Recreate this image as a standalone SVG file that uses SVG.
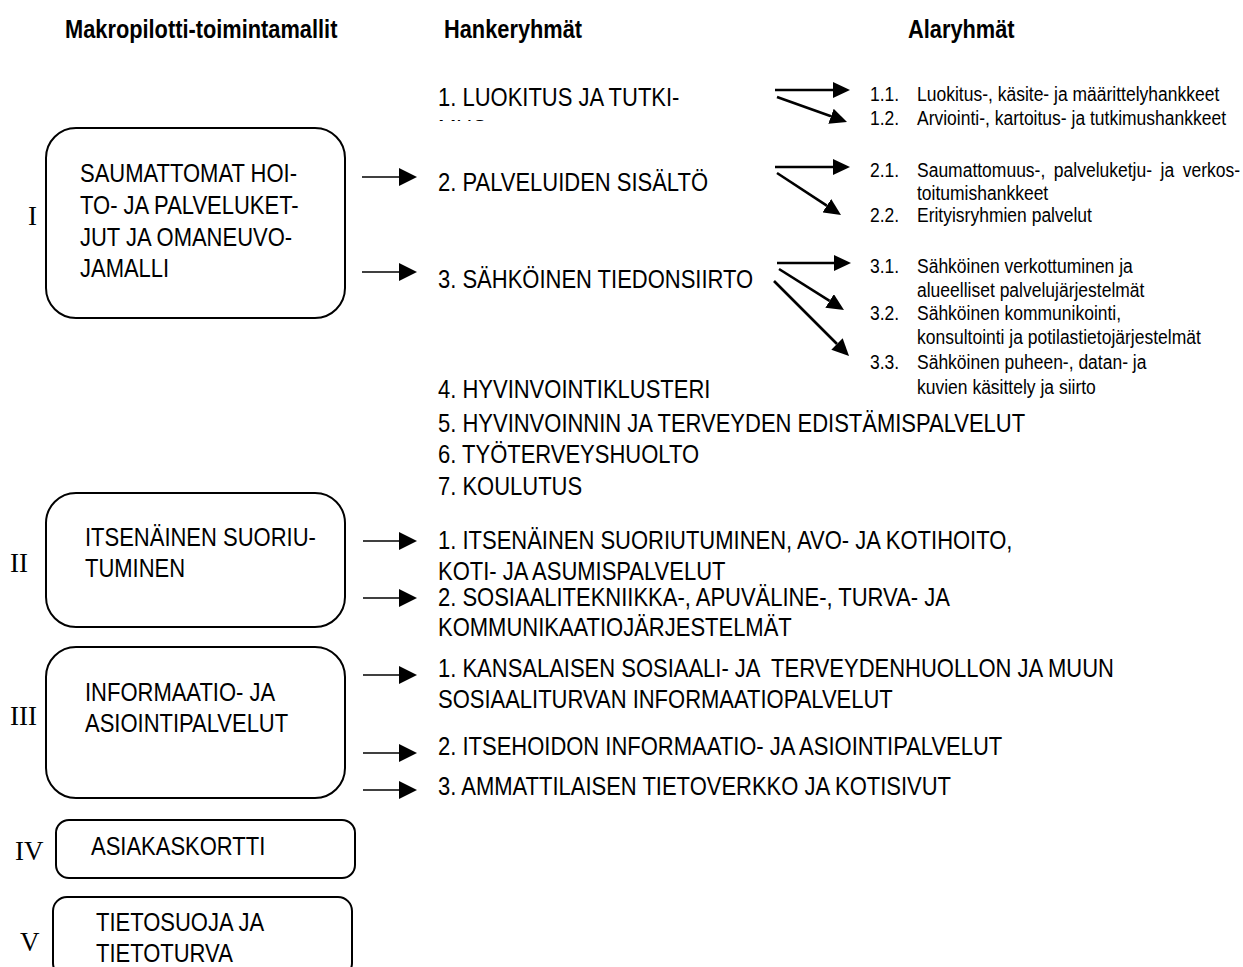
<svg xmlns="http://www.w3.org/2000/svg" width="1243" height="967" viewBox="0 0 1243 967">
  <defs>
    <style>
      .hdr { font-family: "Liberation Sans", Arial, sans-serif; font-size: 21.8px; font-weight: bold; fill: #000; }
      .t { font-family: "Liberation Sans", Arial, sans-serif; font-size: 22px; fill: #000; }
      .s { font-family: "Liberation Sans", Arial, sans-serif; font-size: 17.5px; fill: #000; }
      .rn { font-family: "Liberation Serif", "Times New Roman", serif; font-size: 27px; fill: #000; }
      .box { fill: #fff; stroke: #000; stroke-width: 2; }
      .thin { stroke: #000; stroke-width: 1.3; fill: none; }
      .thick { stroke: #000; stroke-width: 2.6; fill: none; }
    </style>
    <marker id="headSmall" markerUnits="userSpaceOnUse" viewBox="0 0 18 18" refX="0" refY="9" markerWidth="18" markerHeight="18" orient="auto">
      <path d="M0,0 L18,9 L0,18 z" fill="#000"/>
    </marker>
    <marker id="headBold" markerUnits="userSpaceOnUse" viewBox="0 0 17 16" refX="0" refY="8" markerWidth="17" markerHeight="16" orient="auto">
      <path d="M0,0 L17,8 L0,16 z" fill="#000"/>
    </marker>
    <clipPath id="cutLine">
      <rect x="400" y="60" width="400" height="61"/>
    </clipPath>
  </defs>
  <rect width="1243" height="967" fill="#fff"/>

  <!-- column headings (type is drawn slightly tall: scale 1 x 1.15) -->
  <g id="headings">
    <text class="hdr" transform="matrix(1 0 0 1.15 65 38)">Makropilotti-toimintamallit</text>
    <text class="hdr" transform="matrix(1 0 0 1.15 444 38)">Hankeryhmät</text>
    <text class="hdr" transform="matrix(1 0 0 1.15 908 38)">Alaryhmät</text>
  </g>

  <!-- macro pilot models -->
  <g id="model-I">
    <text class="rn" x="28" y="225">I</text>
    <rect class="box" x="46" y="128" width="299" height="190" rx="30" ry="30"/>
    <text class="t" transform="matrix(1 0 0 1.15 80 182)">SAUMATTOMAT HOI-</text>
    <text class="t" transform="matrix(1 0 0 1.15 80 214)">TO- JA PALVELUKET-</text>
    <text class="t" transform="matrix(1 0 0 1.15 80 246)">JUT JA OMANEUVO-</text>
    <text class="t" transform="matrix(1 0 0 1.15 80 277)">JAMALLI</text>
  </g>
  <g id="model-II">
    <text class="rn" x="10" y="572">II</text>
    <rect class="box" x="46" y="493" width="299" height="134" rx="30" ry="30"/>
    <text class="t" transform="matrix(1 0 0 1.15 85 546)">ITSENÄINEN SUORIU-</text>
    <text class="t" transform="matrix(1 0 0 1.15 85 577)">TUMINEN</text>
  </g>
  <g id="model-III">
    <text class="rn" x="10" y="725">III</text>
    <rect class="box" x="46" y="647" width="299" height="151" rx="30" ry="30"/>
    <text class="t" transform="matrix(1 0 0 1.15 85 701)">INFORMAATIO- JA</text>
    <text class="t" transform="matrix(1 0 0 1.15 85 732)">ASIOINTIPALVELUT</text>
  </g>
  <g id="model-IV">
    <text class="rn" x="15" y="860">IV</text>
    <rect class="box" x="56" y="820" width="299" height="58" rx="13" ry="13"/>
    <text class="t" transform="matrix(1 0 0 1.15 91 855)">ASIAKASKORTTI</text>
  </g>
  <g id="model-V">
    <text class="rn" x="20" y="951">V</text>
    <rect class="box" x="53" y="897" width="299" height="80" rx="14" ry="14"/>
    <text class="t" transform="matrix(1 0 0 1.15 96 931)">TIETOSUOJA JA</text>
    <text class="t" transform="matrix(1 0 0 1.15 96 962)">TIETOTURVA</text>
  </g>

  <!-- project groups -->
  <g id="groups-I">
    <text class="t" transform="matrix(1 0 0 1.15 438 106)">1. LUOKITUS JA TUTKI-</text>
    <g clip-path="url(#cutLine)">
      <text class="t" transform="matrix(1 0 0 1.15 438 138)">MUS</text>
    </g>
    <text class="t" transform="matrix(1 0 0 1.15 438 191)">2. PALVELUIDEN SISÄLTÖ</text>
    <text class="t" transform="matrix(1 0 0 1.15 438 288)">3. SÄHKÖINEN TIEDONSIIRTO</text>
    <text class="t" transform="matrix(1 0 0 1.15 438 398)">4. HYVINVOINTIKLUSTERI</text>
    <text class="t" transform="matrix(1 0 0 1.15 438 432)">5. HYVINVOINNIN JA TERVEYDEN EDISTÄMISPALVELUT</text>
    <text class="t" transform="matrix(1 0 0 1.15 438 463)">6. TYÖTERVEYSHUOLTO</text>
    <text class="t" transform="matrix(1 0 0 1.15 438 495)">7. KOULUTUS</text>
  </g>
  <g id="groups-II">
    <text class="t" transform="matrix(1 0 0 1.15 438 549)">1. ITSENÄINEN SUORIUTUMINEN, AVO- JA KOTIHOITO,</text>
    <text class="t" transform="matrix(1 0 0 1.15 438 580)">KOTI- JA ASUMISPALVELUT</text>
    <text class="t" transform="matrix(1 0 0 1.15 438 606)">2. SOSIAALITEKNIIKKA-, APUVÄLINE-, TURVA- JA</text>
    <text class="t" transform="matrix(1 0 0 1.15 438 636)">KOMMUNIKAATIOJÄRJESTELMÄT</text>
  </g>
  <g id="groups-III">
    <text class="t" transform="matrix(1 0 0 1.15 438 677)" xml:space="preserve">1. KANSALAISEN SOSIAALI- JA  TERVEYDENHUOLLON JA MUUN</text>
    <text class="t" transform="matrix(1 0 0 1.15 438 708)">SOSIAALITURVAN INFORMAATIOPALVELUT</text>
    <text class="t" transform="matrix(1 0 0 1.15 438 755)">2. ITSEHOIDON INFORMAATIO- JA ASIOINTIPALVELUT</text>
    <text class="t" transform="matrix(1 0 0 1.15 438 795)">3. AMMATTILAISEN TIETOVERKKO JA KOTISIVUT</text>
  </g>

  <!-- subgroups -->
  <g id="subgroups-1">
    <text class="s" transform="matrix(1 0 0 1.15 870 101)">1.1.</text>
    <text class="s" transform="matrix(1 0 0 1.15 917 101)">Luokitus-, käsite- ja määrittelyhankkeet</text>
    <text class="s" transform="matrix(1 0 0 1.15 870 125)">1.2.</text>
    <text class="s" transform="matrix(1 0 0 1.15 917 125)">Arviointi-, kartoitus- ja tutkimushankkeet</text>
  </g>
  <g id="subgroups-2">
    <text class="s" transform="matrix(1 0 0 1.15 870 177)">2.1.</text>
    <text class="s" transform="matrix(1 0 0 1.15 917 177)" word-spacing="3.7">Saumattomuus-, palveluketju- ja verkos-</text>
    <text class="s" transform="matrix(1 0 0 1.15 917 200)">toitumishankkeet</text>
    <text class="s" transform="matrix(1 0 0 1.15 870 222)">2.2.</text>
    <text class="s" transform="matrix(1 0 0 1.15 917 222)">Erityisryhmien palvelut</text>
  </g>
  <g id="subgroups-3">
    <text class="s" transform="matrix(1 0 0 1.15 870 273)">3.1.</text>
    <text class="s" transform="matrix(1 0 0 1.15 917 273)">Sähköinen verkottuminen ja</text>
    <text class="s" transform="matrix(1 0 0 1.15 917 297)">alueelliset palvelujärjestelmät</text>
    <text class="s" transform="matrix(1 0 0 1.15 870 320)">3.2.</text>
    <text class="s" transform="matrix(1 0 0 1.15 917 320)">Sähköinen kommunikointi,</text>
    <text class="s" transform="matrix(1 0 0 1.15 917 344)">konsultointi ja potilastietojärjestelmät</text>
    <text class="s" transform="matrix(1 0 0 1.15 870 369)">3.3.</text>
    <text class="s" transform="matrix(1 0 0 1.15 917 369)">Sähköinen puheen-, datan- ja</text>
    <text class="s" transform="matrix(1 0 0 1.15 917 394)">kuvien käsittely ja siirto</text>
  </g>

  <!-- connectors -->
  <g id="connectors">
    <!-- models to project groups -->
    <line class="thin" x1="362" y1="177" x2="399" y2="177" marker-end="url(#headSmall)"/>
    <line class="thin" x1="362" y1="272" x2="399" y2="272" marker-end="url(#headSmall)"/>
    <line class="thin" x1="363" y1="541" x2="399" y2="541" marker-end="url(#headSmall)"/>
    <line class="thin" x1="363" y1="598" x2="399" y2="598" marker-end="url(#headSmall)"/>
    <line class="thin" x1="363" y1="675" x2="399" y2="675" marker-end="url(#headSmall)"/>
    <line class="thin" x1="363" y1="753" x2="399" y2="753" marker-end="url(#headSmall)"/>
    <line class="thin" x1="363" y1="790" x2="399" y2="790" marker-end="url(#headSmall)"/>
    <!-- project groups to subgroups -->
    <line class="thick" x1="775" y1="90" x2="833" y2="90" marker-end="url(#headBold)"/>
    <line class="thick" x1="777" y1="97" x2="831" y2="116.3" marker-end="url(#headBold)"/>
    <line class="thick" x1="775" y1="167" x2="833" y2="167" marker-end="url(#headBold)"/>
    <line class="thick" x1="777" y1="173" x2="826.8" y2="205.7" marker-end="url(#headBold)"/>
    <line class="thick" x1="777" y1="263" x2="834" y2="263" marker-end="url(#headBold)"/>
    <line class="thick" x1="779" y1="269" x2="829.6" y2="300.9" marker-end="url(#headBold)"/>
    <line class="thick" x1="774" y1="281" x2="837" y2="344" marker-end="url(#headBold)"/>
  </g>
</svg>
